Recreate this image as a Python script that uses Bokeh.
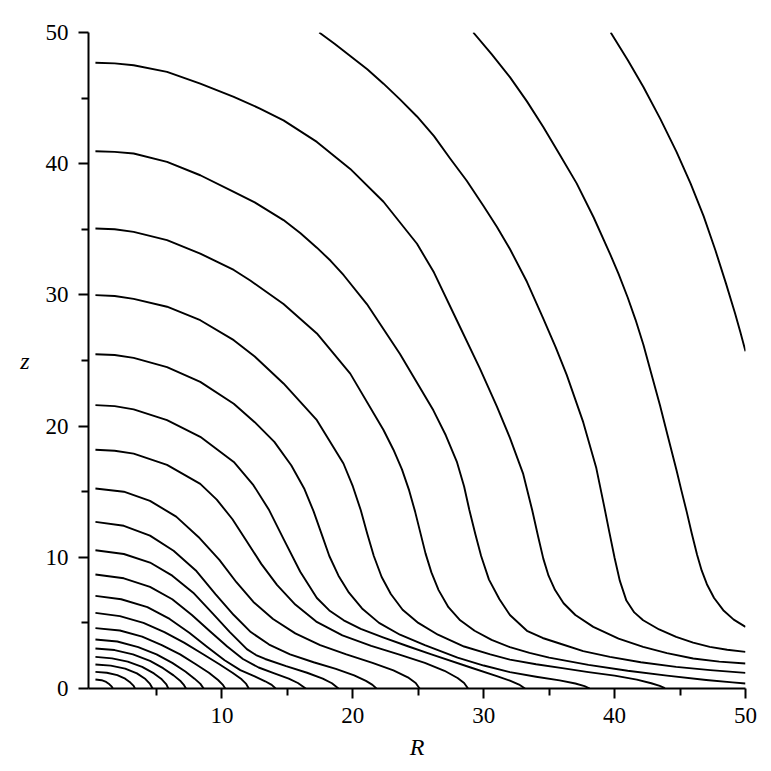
from bokeh.plotting import figure
from bokeh.models import Range1d, FixedTicker
from bokeh.embed import file_html
from bokeh.resources import INLINE

# Contour lines (R, z), outermost first
cA_R = [39.7, 41.0, 42.2, 43.5, 44.73, 45.8, 46.8, 47.7, 48.5, 49.2, 49.6, 50.0]
cA_z = [50, 47.9, 45.85, 43.4, 40.9, 38.5, 36.0, 33.4, 30.9, 28.6, 27.2, 25.7]
cB_R = [29.2, 30.6, 32.0, 33.3, 34.55, 35.8, 37.1, 38.4, 39.64, 40.3, 41.0, 41.6, 42.2, 42.8, 43.46,
        44.1, 44.73, 45.1, 45.5, 45.9, 46.3, 46.65, 47.05, 47.6, 48.3, 49.1, 50]
cB_z = [50, 48.35, 46.6, 44.75, 42.8, 40.7, 38.5, 35.9, 33.15, 31.6, 29.8, 28.1, 26.2, 24.0, 21.6,
        19.1, 16.64, 15.1, 13.5, 11.8, 10.2, 9.0, 7.95, 6.9, 5.97, 5.25, 4.7]
cC_R = [17.43, 18.6, 19.8, 21.1, 22.34, 23.6, 24.9, 26.2, 27.43, 28.7, 29.97, 31.0, 32.0, 33.3, 34.55,
        35.5, 36.34, 37.6, 38.6, 39.2, 39.6, 40.0, 40.4, 40.9, 41.5, 42.18, 43.4, 44.7, 46.0, 47.27, 48.6, 50]
cC_z = [50, 49.15, 48.2, 47.2, 46.1, 44.9, 43.6, 42.1, 40.4, 38.7, 36.8, 35.2, 33.5, 31.0, 28.2,
        26.0, 23.9, 20.3, 16.8, 13.9, 11.9, 9.95, 8.2, 6.7, 5.8, 5.2, 4.5, 3.93, 3.5, 3.17, 2.95, 2.79]
cD_R = [0.33, 1.8, 3.25, 5.8, 8.34, 10.9, 12.9, 14.7, 17.25, 19.8, 22.34, 24.9, 26.2, 27.94, 29.7,
        31.0, 32.0, 33.0, 33.7, 34.15, 34.55, 34.95, 35.45, 36.1, 37.0, 38.37, 40.3, 42.18, 44.0,
        46.0, 48.0, 50]
cD_z = [47.7, 47.65, 47.5, 47.0, 46.1, 45.1, 44.2, 43.3, 41.66, 39.6, 37.1, 33.9, 31.7, 28.07, 24.4,
        21.5, 19.1, 16.4, 13.6, 11.6, 9.9, 8.6, 7.5, 6.5, 5.6, 4.7, 3.8, 3.17, 2.7,
        2.29, 2.05, 1.9]
cE_R = [0.33, 1.8, 3.25, 5.8, 8.34, 10.9, 12.5, 14.7, 16.0, 17.25, 18.3, 19.3, 21.07, 23.6, 26.15, 27.1, 27.94,
        28.5, 28.9, 29.35, 29.8, 30.4, 31.2, 32.0, 33.3, 34.5, 35.8, 37.6, 39.64, 42.0, 44.7, 47.3, 50]
cE_z = [40.95, 40.9, 40.78, 40.14, 39.12, 37.85, 37.05, 35.7, 34.7, 33.6, 32.6, 31.5, 29.3, 25.5, 21.2, 19.3, 17.3,
        15.4, 13.6, 11.8, 10.1, 8.3, 6.8, 5.6, 4.4, 3.85, 3.43, 2.85, 2.41, 2.0, 1.65, 1.4, 1.19]
cF_R = [0.33, 1.8, 3.25, 5.8, 8.34, 10.9, 12.16, 14.7, 17.25, 19.8, 22.34, 23.1, 23.75, 24.3, 24.75,
        25.15, 25.55, 26.0, 26.55, 27.3, 28.2, 29.3, 30.6, 32.0, 33.5, 35.0, 38.0, 41.0, 44.0, 47.0, 49.0, 50]
cF_z = [35.06, 35.0, 34.8, 34.17, 33.15, 31.9, 31.1, 29.3, 27.06, 24.0, 19.7, 18.2, 16.7, 15.1, 13.5,
        11.9, 10.3, 8.85, 7.5, 6.2, 5.2, 4.4, 3.7, 3.15, 2.72, 2.35, 1.8, 1.35, 0.98, 0.65, 0.47, 0.38]
cG_R = [0.33, 1.8, 3.25, 5.8, 8.34, 10.9, 12.5, 14.7, 17.25, 19.28, 20.0, 20.6, 21.1, 21.6, 22.2,
        22.9, 23.8, 25.0, 26.5, 28.5, 30.5, 32.0, 34.0, 36.0, 38.0, 40.0, 41.7, 42.8, 43.45, 43.75, 43.84]
cG_z = [29.98, 29.92, 29.7, 29.1, 28.07, 26.55, 25.3, 23.25, 20.45, 17.15, 15.4, 13.6, 11.8, 10.1, 8.5,
        7.2, 6.0, 5.0, 4.1, 3.2, 2.6, 2.2, 1.85, 1.55, 1.25, 0.98, 0.68, 0.4, 0.2, 0.07, 0]
cH_R = [0.33, 1.8, 3.25, 5.8, 8.34, 10.9, 12.5, 14.0, 15.3, 16.3, 17.0, 17.6, 18.2, 18.9, 19.7,
        20.7, 22.0, 23.6, 25.5, 28.0, 30.0, 32.0, 34.0, 35.8, 37.0, 37.7, 38.1]
cH_z = [25.48, 25.42, 25.2, 24.5, 23.37, 21.7, 20.3, 18.8, 17.0, 15.2, 13.5, 11.8, 10.1, 8.6, 7.3,
        6.1, 5.0, 4.1, 3.3, 2.35, 1.75, 1.25, 0.9, 0.62, 0.38, 0.18, 0]
cI_R = [0.33, 1.8, 3.25, 5.8, 8.34, 10.9, 12.4, 13.6, 14.7, 15.98, 17.25, 18.2, 19.3, 20.6, 22.3,
        24.2, 26.0, 29.0, 31.0, 32.0, 32.7, 33.15]
cI_z = [21.6, 21.52, 21.27, 20.45, 19.18, 17.27, 15.5, 13.6, 11.4, 8.9, 6.9, 5.95, 5.2, 4.55, 3.9,
        3.22, 2.6, 1.6, 0.95, 0.6, 0.3, 0]
cJ_R = [0.33, 1.8, 3.25, 5.8, 8.34, 9.6, 10.8, 11.9, 13.0, 14.2, 15.6, 17.2, 19.2, 21.4, 23.5,
        25.5, 27.0, 28.0, 28.5, 28.8]
cJ_z = [18.2, 18.12, 17.9, 17.05, 15.6, 14.4, 12.9, 11.2, 9.5, 7.9, 6.4, 5.1, 4.05, 3.25, 2.6,
        1.95, 1.35, 0.8, 0.42, 0]
cK_R = [0.33, 2.5, 4.5, 6.5, 8.2, 9.8, 11.1, 12.4, 13.9, 15.6, 17.5, 19.5, 21.5, 23.1, 24.2, 24.8, 25.1]
cK_z = [15.24, 15.0, 14.3, 13.1, 11.55, 9.8, 8.1, 6.6, 5.3, 4.2, 3.3, 2.6, 1.95, 1.38, 0.85, 0.42, 0]
cL_R = [0.33, 2.5, 4.5, 6.3, 8.0, 9.5, 10.9, 12.2, 13.6, 15.2, 17.0, 18.7, 20.1, 21.0, 21.5, 21.8]
cL_z = [12.7, 12.4, 11.65, 10.5, 9.0, 7.2, 5.6, 4.3, 3.35, 2.6, 2.0, 1.5, 1.0, 0.58, 0.28, 0]
cM_R = [0.33, 2.5, 4.5, 6.2, 7.8, 9.3, 10.6, 11.9, 12.6, 13.3, 14.9, 16.5, 17.7, 18.4, 18.9]
cM_z = [10.54, 10.25, 9.6, 8.6, 7.3, 5.7, 4.3, 3.0, 2.55, 2.25, 1.7, 1.2, 0.75, 0.4, 0]
cN_R = [0.33, 2.5, 4.5, 6.2, 7.7, 9.1, 10.4, 11.6, 12.8, 14.0, 15.1, 15.8, 16.4]
cN_z = [8.69, 8.4, 7.75, 6.8, 5.6, 4.35, 3.2, 2.25, 1.6, 1.15, 0.75, 0.42, 0]
cO_R = [0.33, 2.3, 4.3, 6.0, 7.5, 8.9, 10.2, 11.4, 12.5, 13.3, 13.8, 14.1]
cO_z = [7.06, 6.8, 6.2, 5.3, 4.25, 3.15, 2.15, 1.4, 0.92, 0.55, 0.28, 0]
cP_R = [0.33, 2.2, 4.0, 5.6, 7.1, 8.5, 9.8, 10.8, 11.5, 11.85, 12.05]
cP_z = [5.76, 5.52, 5.0, 4.3, 3.5, 2.65, 1.85, 1.2, 0.7, 0.35, 0]
cQ_R = [0.33, 2.2, 3.9, 5.4, 6.8, 8.0, 9.0, 9.7, 10.05, 10.25]
cQ_z = [4.6, 4.42, 3.95, 3.3, 2.6, 1.85, 1.2, 0.65, 0.3, 0]
cS_R = [0.33, 2.0, 3.6, 5.0, 6.2, 7.2, 7.9, 8.35, 8.6]
cS_z = [3.73, 3.58, 3.15, 2.6, 1.95, 1.3, 0.75, 0.35, 0]
cT_R = [0.33, 1.8, 3.2, 4.5, 5.5, 6.3, 6.85, 7.1, 7.25]
cT_z = [3.05, 2.93, 2.6, 2.1, 1.55, 1.0, 0.55, 0.25, 0]
cU_R = [0.33, 1.6, 2.8, 3.9, 4.8, 5.4, 5.75, 5.9]
cU_z = [2.41, 2.3, 2.05, 1.65, 1.15, 0.7, 0.32, 0]
cV_R = [0.33, 1.5, 2.6, 3.5, 4.15, 4.5, 4.7]
cV_z = [1.83, 1.74, 1.52, 1.15, 0.72, 0.35, 0]
cW_R = [0.33, 1.2, 2.0, 2.6, 3.0, 3.25, 3.35]
cW_z = [1.27, 1.2, 1.02, 0.75, 0.45, 0.2, 0]
cX_R = [0.33, 0.8, 1.15, 1.4, 1.58, 1.65]
cX_z = [0.69, 0.63, 0.5, 0.32, 0.14, 0]

x_major = [10, 20, 30, 40, 50]
x_minor = [5, 15, 25, 35, 45]
y_major = [0, 10, 20, 30, 40, 50]
y_minor = [5, 15, 25, 35, 45]

xs = [cA_R, cB_R, cC_R, cD_R, cE_R, cF_R, cG_R, cH_R, cI_R, cJ_R, cK_R, cL_R,
      cM_R, cN_R, cO_R, cP_R, cQ_R, cS_R, cT_R, cU_R, cV_R, cW_R, cX_R]
ys = [cA_z, cB_z, cC_z, cD_z, cE_z, cF_z, cG_z, cH_z, cI_z, cJ_z, cK_z, cL_z,
      cM_z, cN_z, cO_z, cP_z, cQ_z, cS_z, cT_z, cU_z, cV_z, cW_z, cX_z]

p = figure(width=762, height=762, output_backend="svg", toolbar_location=None,
           x_range=Range1d(-0.2, 50), y_range=Range1d(0, 50),
           min_border_left=88, min_border_right=17, min_border_top=32, min_border_bottom=74)
p.outline_line_color = None
p.grid.grid_line_color = None
p.background_fill_color = "white"

p.multi_line(xs, ys, line_color="black", line_width=1.9, line_join="round")

p.xaxis.ticker = FixedTicker(ticks=x_major, minor_ticks=x_minor)
p.yaxis.ticker = FixedTicker(ticks=y_major, minor_ticks=y_minor)
for ax in (p.xaxis, p.yaxis):
    ax.axis_line_width = 2
    ax.major_tick_line_width = 2
    ax.minor_tick_line_width = 2
    ax.major_tick_out = 10
    ax.major_tick_in = 0
    ax.minor_tick_out = 7
    ax.minor_tick_in = 0
    ax.major_label_text_font = "Liberation Serif"
    ax.major_label_text_font_size = "23px"
    ax.major_label_text_color = "black"
    ax.axis_label_text_font = "Liberation Serif"
    ax.axis_label_text_font_size = "24px"
    ax.axis_label_text_font_style = "italic"
    ax.axis_label_text_color = "black"
p.xaxis.axis_label = "R"
p.yaxis.axis_label = "z"
p.xaxis.major_label_standoff = 9
p.xaxis.axis_label_standoff = 8
p.yaxis.major_label_standoff = 10
p.yaxis.axis_label_standoff = 13
try:
    p.yaxis.axis_label_orientation = "horizontal"
except Exception:
    pass

open("out.html", "w").write(file_html(p, INLINE))
